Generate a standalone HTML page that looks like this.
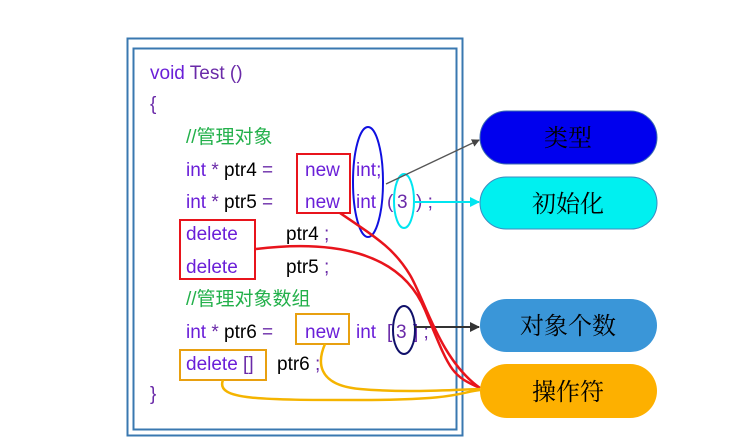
<!DOCTYPE html>
<html><head><meta charset="utf-8"><style>
html,body{margin:0;padding:0;background:#fff;width:750px;height:445px;overflow:hidden}
svg text{font-family:"Liberation Sans","Noto Sans CJK SC",sans-serif}
</style></head><body>
<svg width="750" height="445" viewBox="0 0 750 445" xmlns="http://www.w3.org/2000/svg">
<defs>
<marker id="ag" markerWidth="8" markerHeight="8" refX="7" refY="4" orient="auto" markerUnits="userSpaceOnUse"><path d="M0,0 L8,4 L0,8 z" fill="#444"/></marker>
<marker id="ac" markerWidth="10" markerHeight="10" refX="9" refY="5" orient="auto" markerUnits="userSpaceOnUse"><path d="M0,0 L10,5 L0,10 z" fill="#00e5f0"/></marker>
<marker id="ak" markerWidth="10" markerHeight="10" refX="9" refY="5" orient="auto" markerUnits="userSpaceOnUse"><path d="M0,0 L10,5 L0,10 z" fill="#333"/></marker>
</defs>
<rect x="127.5" y="38.5" width="335" height="397" fill="none" stroke="#3a78b0" stroke-width="2"/>
<rect x="133.5" y="48.5" width="323" height="381" fill="none" stroke="#3a78b0" stroke-width="2"/>
<g font-size="19">
<text x="150" y="79"><tspan fill="#6a1fd8">void</tspan><tspan fill="#6a2aa8"> Test ()</tspan></text>
<text x="150" y="110" fill="#6a2aa8">{</text>
<text x="186" y="143" fill="#22b04a">//管理对象</text>
<text x="186" y="176"><tspan fill="#6a1fd8">int</tspan><tspan fill="#6a2aa8"> * </tspan><tspan fill="#000">ptr4</tspan><tspan fill="#6a2aa8"> = </tspan></text>
<text x="305" y="176" fill="#6a1fd8">new</text>
<text x="356" y="176" fill="#6a1fd8">int;</text>
<text x="186" y="208"><tspan fill="#6a1fd8">int</tspan><tspan fill="#6a2aa8"> * </tspan><tspan fill="#000">ptr5</tspan><tspan fill="#6a2aa8"> = </tspan></text>
<text x="305" y="208" fill="#6a1fd8">new</text>
<text x="356" y="208" fill="#6a1fd8">int</text>
<text x="387" y="208" fill="#6a2aa8">( </text><text x="397" y="208" fill="#6a2aa8">3</text><text x="416" y="208" fill="#6a2aa8">) ;</text>
<text x="186" y="240" fill="#6a1fd8">delete</text>
<text x="286" y="240"><tspan fill="#000">ptr4</tspan><tspan fill="#6a2aa8"> ;</tspan></text>
<text x="186" y="273" fill="#6a1fd8">delete</text>
<text x="286" y="273"><tspan fill="#000">ptr5</tspan><tspan fill="#6a2aa8"> ;</tspan></text>
<text x="186" y="305" fill="#22b04a">//管理对象数组</text>
<text x="186" y="338"><tspan fill="#6a1fd8">int</tspan><tspan fill="#6a2aa8"> * </tspan><tspan fill="#000">ptr6</tspan><tspan fill="#6a2aa8"> = </tspan></text>
<text x="305" y="338" fill="#6a1fd8">new</text>
<text x="356" y="338" fill="#6a1fd8">int</text><text x="387" y="338" fill="#6a2aa8">[</text>
<text x="396" y="338" fill="#6a2aa8">3</text><text x="413" y="338" fill="#6a2aa8">] ;</text>
<text x="186" y="370" fill="#6a1fd8">delete <tspan fill="#6a2aa8">[]</tspan></text>
<text x="277" y="370"><tspan fill="#000">ptr6</tspan><tspan fill="#6a2aa8"> ;</tspan></text>
<text x="150" y="400" fill="#6a2aa8">}</text>
</g>
<!-- boxes -->
<rect x="297" y="154" width="53" height="59" fill="none" stroke="#e8141c" stroke-width="2"/>
<rect x="180" y="220" width="75" height="59" fill="none" stroke="#e8141c" stroke-width="2"/>
<rect x="296" y="314" width="53" height="30" fill="none" stroke="#e8a010" stroke-width="2"/>
<rect x="180" y="350" width="86" height="30" fill="none" stroke="#e8a010" stroke-width="2"/>
<!-- ellipses -->
<ellipse cx="368" cy="182" rx="15" ry="55" fill="none" stroke="#1010e0" stroke-width="2"/>
<ellipse cx="404" cy="201" rx="10" ry="27" fill="none" stroke="#00e5f0" stroke-width="2"/>
<ellipse cx="404" cy="330" rx="11" ry="24" fill="none" stroke="#10106a" stroke-width="2"/>
<!-- arrows -->
<line x1="386" y1="184" x2="479" y2="140" stroke="#555" stroke-width="1.3" marker-end="url(#ag)"/>
<line x1="415" y1="202" x2="479" y2="202" stroke="#00e5f0" stroke-width="2" marker-end="url(#ac)"/>
<line x1="415" y1="327" x2="479" y2="327" stroke="#333" stroke-width="2" marker-end="url(#ak)"/>
<!-- red curves -->
<path d="M340 213 C 380 240, 395 250, 410 275 S 440 360, 480 388" fill="none" stroke="#e8141c" stroke-width="2.5"/>
<path d="M256 249 C 330 240, 400 250, 425 310 S 450 375, 480 388" fill="none" stroke="#e8141c" stroke-width="2.5"/>
<!-- yellow curves -->
<path d="M223 380 C 215 400, 260 400, 360 400 S 460 392, 480 390" fill="none" stroke="#f5b400" stroke-width="2.5"/>
<path d="M325 344 C 318 360, 315 385, 360 389 S 450 390, 480 389" fill="none" stroke="#f5b400" stroke-width="2.5"/>
<!-- pills -->
<rect x="480" y="111" width="177" height="53" rx="26.5" fill="#0000ee" stroke="#3b6bb0" stroke-width="1"/>
<rect x="480" y="177" width="177" height="52" rx="26" fill="#00f0f0" stroke="#3b8bc0" stroke-width="1"/>
<rect x="480" y="299" width="177" height="53" rx="26.5" fill="#3a96d8"/>
<rect x="480" y="364" width="177" height="54" rx="27" fill="#fdb000"/>
<g font-size="24" fill="#000" text-anchor="middle" font-family="'Noto Serif CJK SC',serif">
<text x="568" y="146" style="font-family:'Noto Serif CJK SC',serif">类型</text>
<text x="568" y="212" style="font-family:'Noto Serif CJK SC',serif">初始化</text>
<text x="568" y="334" style="font-family:'Noto Serif CJK SC',serif">对象个数</text>
<text x="568" y="400" style="font-family:'Noto Serif CJK SC',serif">操作符</text>
</g>
</svg>
</body></html>
